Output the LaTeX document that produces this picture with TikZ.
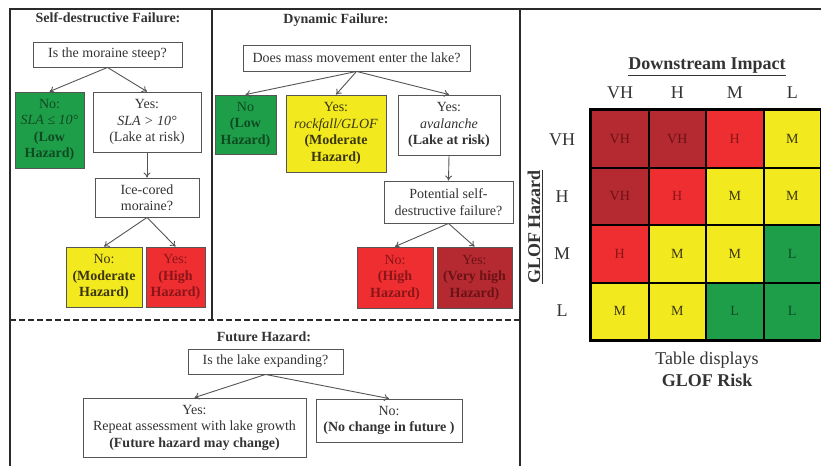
\documentclass[tikz,border=0pt]{standalone}
\usepackage{fontspec}
\setmainfont{Liberation Serif}
\usetikzlibrary{arrows.meta}
\definecolor{cgreen}{HTML}{1F9E4A}
\definecolor{cyellow}{HTML}{F2EA1F}
\definecolor{cred}{HTML}{EE2E31}
\definecolor{cdred}{HTML}{B52A30}
\definecolor{tgreen}{HTML}{0E4A20}
\definecolor{tyellow}{HTML}{3A3510}
\definecolor{tred}{HTML}{8A1518}
\definecolor{tdred}{HTML}{6A1215}
\definecolor{boxgray}{HTML}{555555}
\definecolor{txtgray}{HTML}{333333}
\definecolor{framec}{HTML}{2A2A2A}
\begin{document}
\begin{tikzpicture}[x=1pt,y=-1pt,
  box/.style={draw=boxgray, line width=0.9pt, align=center, inner sep=0pt,
    font=\fontsize{14}{16.5}\selectfont, text=txtgray},
  gbox/.style={box, fill=cgreen, text=tgreen},
  ybox/.style={box, fill=cyellow, text=tyellow},
  rbox/.style={box, fill=cred, text=tred},
  dbox/.style={box, fill=cdred, text=tdred},
  ttl/.style={font=\fontsize{14}{16}\selectfont\bfseries, text=txtgray, inner sep=0pt},
  arr/.style={draw=boxgray, line width=0.9pt, -{To[length=5pt,width=7pt]}},
  frame/.style={draw=framec, line width=1.8pt},
  cell/.style={draw=black, line width=2pt, minimum width=57.5pt, minimum height=57.5pt,
    inner sep=0pt, font=\fontsize{14}{16}\selectfont},
  cg/.style={cell, fill=cgreen, text=tgreen},
  cy/.style={cell, fill=cyellow, text=tyellow},
  cr/.style={cell, fill=cred, text=tred},
  cd/.style={cell, fill=cdred, text=tdred},
  lab/.style={font=\fontsize{18}{20}\selectfont, text=txtgray, inner sep=0pt}]
\useasboundingbox (0,0) rectangle (821,466);
\fill[white] (0,0) rectangle (821,466);
% frame
\coordinate (fa) at (10,466);
\coordinate (fb) at (10,9);
\coordinate (fc) at (821,9);
\coordinate (fd) at (212,9);
\coordinate (fe) at (212,320);
\coordinate (ff) at (520,9);
\coordinate (fg) at (520,466);
\coordinate (fh) at (10,320);
\coordinate (fi) at (520,320);
\draw[frame] (fa) -- (fb) -- (fc);
\draw[frame] (fd) -- (fe);
\draw[frame] (ff) -- (fg);
\draw[frame, dashed, dash pattern=on 6pt off 3pt] (fh) -- (fi);
% left panel
\node[ttl] (t1) at (108,18) {Self-destructive Failure:};
\node[box, minimum width=149pt, minimum height=25pt] (q1) at (107.5,54.5) {Is the moraine steep?};
\node[gbox, minimum width=69pt, minimum height=76pt] (n1) at (49.5,130) {No:\\ \textit{SLA ≤ 10°}\\ \textbf{(Low}\\ \textbf{Hazard)}};
\node[box, minimum width=108pt, minimum height=60pt] (y1) at (147,122) {Yes:\\ \textit{SLA > 10°}\\ (Lake at risk)};
\node[box, minimum width=104pt, minimum height=39pt] (ic) at (147,197.5) {Ice-cored\\ moraine?};
\node[ybox, minimum width=76pt, minimum height=60pt] (n2) at (104,277) {No:\\ \textbf{(Moderate}\\ \textbf{Hazard)}};
\node[rbox, minimum width=59pt, minimum height=60pt] (y2) at (175.5,277) {Yes:\\ \textbf{(High}\\ \textbf{Hazard)}};
\draw[arr] (q1.south) -- (n1.north);
\draw[arr] (q1.south) -- (y1.north);
\draw[arr] (y1.south) -- (ic.north);
\draw[arr] (ic.south) -- (n2.north);
\draw[arr] (ic.south) -- (y2.north);
% middle panel
\node[ttl] (t2) at (336,20) {Dynamic Failure:};
\node[box, minimum width=227pt, minimum height=26pt] (q2) at (356.5,58) {Does mass movement enter the lake?};
\node[gbox, minimum width=61pt, minimum height=59pt] (n3) at (245.5,124.5) {No\\ \textbf{(Low}\\ \textbf{Hazard)}};
\node[ybox, minimum width=100pt, minimum height=77pt] (y3) at (336,133.5) {Yes:\\ \textit{rockfall/GLOF}\\ \textbf{(Moderate}\\ \textbf{Hazard)}};
\node[box, minimum width=102pt, minimum height=60pt] (y4) at (449,125) {Yes:\\ \textit{avalanche}\\ \textbf{(Lake at risk)}};
\node[box, minimum width=129pt, minimum height=42pt] (pf) at (448.5,202) {Potential self-\\ destructive failure?};
\node[rbox, minimum width=76pt, minimum height=61pt] (n4) at (395,277.5) {No:\\ \textbf{(High}\\ \textbf{Hazard)}};
\node[dbox, minimum width=75pt, minimum height=61pt] (y5) at (474.5,277.5) {Yes:\\ \textbf{(Very high}\\ \textbf{Hazard)}};
\draw[arr] (q2.south) -- (n3.north);
\draw[arr] (q2.south) -- (y3.north);
\draw[arr] (q2.south) -- (y4.north);
\draw[arr] (y4.south) -- (pf.north);
\draw[arr] (pf.south) -- (n4.north);
\draw[arr] (pf.south) -- (y5.north);
% bottom panel
\node[ttl] (t3) at (264,337) {Future Hazard:};
\node[box, minimum width=155pt, minimum height=25pt] (q3) at (265.5,361.5) {Is the lake expanding?};
\node[box, minimum width=223pt, minimum height=59pt] (fy) at (194.5,427.5) {Yes:\\ Repeat assessment with lake growth\\ \textbf{(Future hazard may change)}};
\node[box, minimum width=146pt, minimum height=43pt] (fn) at (389,420.5) {No:\\ \textbf{(No change in future )}};
\draw[arr] (q3.south) -- (fy.north);
\draw[arr] (q3.south) -- (fn.north);
% right panel
\node[lab, font=\fontsize{18}{20}\selectfont\bfseries] (di) at (707,67) {\underline{Downstream Impact}};
\node[lab] (cvh) at (620,93) {VH};
\node[lab] (ch) at (677.25,93) {H};
\node[lab] (cm) at (734.75,93) {M};
\node[lab] (cl) at (792.25,93) {L};
\node[lab] (rvh) at (562,139.5) {VH};
\node[lab] (rh) at (562,197) {H};
\node[lab] (rm) at (562,254) {M};
\node[lab] (rl) at (562,311) {L};
\node[lab, rotate=90, font=\fontsize{18}{20}\selectfont\bfseries] (gh) at (535,227) {\underline{GLOF Hazard}};
\node[cd] (c11) at (619.75,138.75) {VH};
\node[cd] (c12) at (677.25,138.75) {VH};
\node[cr] (c13) at (734.75,138.75) {H};
\node[cy] (c14) at (792.25,138.75) {M};
\node[cd] (c21) at (619.75,196.25) {VH};
\node[cr] (c22) at (677.25,196.25) {H};
\node[cy] (c23) at (734.75,196.25) {M};
\node[cy] (c24) at (792.25,196.25) {M};
\node[cr] (c31) at (619.75,253.75) {H};
\node[cy] (c32) at (677.25,253.75) {M};
\node[cy] (c33) at (734.75,253.75) {M};
\node[cg] (c34) at (792.25,253.75) {L};
\node[cy] (c41) at (619.75,311.25) {M};
\node[cy] (c42) at (677.25,311.25) {M};
\node[cg] (c43) at (734.75,311.25) {L};
\node[cg] (c44) at (792.25,311.25) {L};
\draw[black, line width=2.5pt] (c11.north west) rectangle (c44.south east);
\node[lab, align=center, font=\fontsize{18}{22}\selectfont] (td) at (707,369) {Table displays\\ \textbf{GLOF Risk}};
\end{tikzpicture}
\end{document}
